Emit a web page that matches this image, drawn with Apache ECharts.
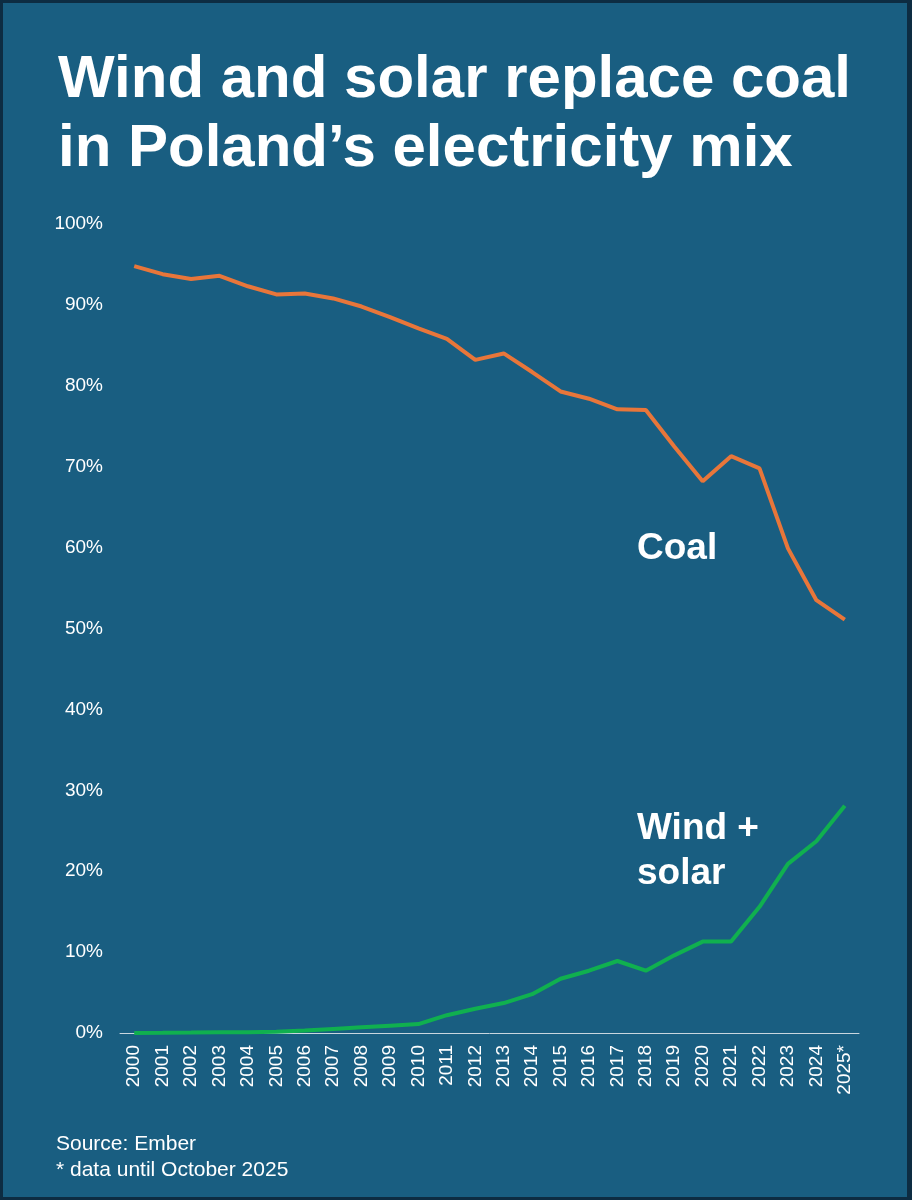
<!DOCTYPE html>
<html>
<head>
<meta charset="utf-8">
<script src="https://cdn.jsdelivr.net/npm/echarts@6/dist/echarts.min.js"></script>
<style>
html,body{margin:0;padding:0;background:#195e81;}
#wrap{width:912px;height:1200px;box-sizing:border-box;border:3px solid #0d2c42;border-right-width:5px;overflow:hidden;}
#chart{width:904px;height:1194px;}
</style>
</head>
<body>
<div id="wrap"><div id="chart"></div></div>
<script>
const years = ['2000','2001','2002','2003','2004','2005','2006','2007','2008','2009','2010','2011','2012','2013','2014','2015','2016','2017','2018','2019','2020','2021','2022','2023','2024','2025*'];
const coal = [94.8,93.8,93.2,93.6,92.3,91.3,91.4,90.8,89.8,88.5,87.1,85.8,83.2,84.0,81.7,79.3,78.4,77.1,77.0,72.5,68.2,71.3,69.8,59.9,53.5,51.1];
const windSolar = [0.0,0.02,0.05,0.1,0.1,0.15,0.3,0.5,0.7,0.9,1.1,2.2,3.0,3.7,4.8,6.7,7.7,8.9,7.7,9.6,11.3,11.3,15.6,20.9,23.7,28.1];
const yTicks = [0,10,20,30,40,50,60,70,80,90,100];

const font = '"Liberation Sans", Arial, sans-serif';
const chart = echarts.init(document.getElementById('chart'), null, {renderer:'canvas'});
chart.setOption({
  backgroundColor:'#195e81',
  animation:false,
  textStyle:{fontFamily:font},
  title:[{
    text:'Wind and solar replace coal\nin Poland\u2019s electricity mix',
    left:55, top:43, padding:0,
    textStyle:{color:'#ffffff',fontSize:60,fontWeight:'bold',fontFamily:font,lineHeight:69}
  },{
    text:'Source: Ember\n* data until October 2025',
    left:53, top:1128, padding:0,
    textStyle:{color:'#ffffff',fontSize:21,fontWeight:'normal',fontFamily:font,lineHeight:26}
  }],
  grid:{left:117, right:48, top:221, bottom:164, containLabel:false},
  xAxis:{
    type:'category', data:years, boundaryGap:true,
    axisLine:{show:true,lineStyle:{color:'#c9d6de',width:1}},
    axisTick:{show:false},
    axisLabel:{color:'#ffffff',fontSize:19,rotate:90,margin:12,interval:0,fontFamily:font}
  },
  yAxis:{
    type:'value', min:0, max:100, interval:10,
    axisLine:{show:false}, axisTick:{show:false}, splitLine:{show:false},
    axisLabel:{color:'#ffffff',fontSize:19,margin:17,fontFamily:font,
      formatter:function(v){return yTicks.indexOf(v)>=0 ? v+'%' : '';}}
  },
  series:[{
    name:'Coal', type:'line', data:coal, symbol:'none',
    lineStyle:{color:'#e8763a',width:4}, z:3
  },{
    name:'Wind + solar', type:'line', data:windSolar, symbol:'none',
    lineStyle:{color:'#10b04f',width:4}, z:3
  }],
  graphic:[{
    type:'text', left:634, top:527,
    style:{text:'Coal',fill:'#ffffff',font:'bold 37px '+font}
  },{
    type:'text', left:634, top:803,
    style:{text:'Wind +\nsolar',fill:'#ffffff',font:'bold 37px '+font,lineHeight:45}
  }]
});
</script>
</body>
</html>
